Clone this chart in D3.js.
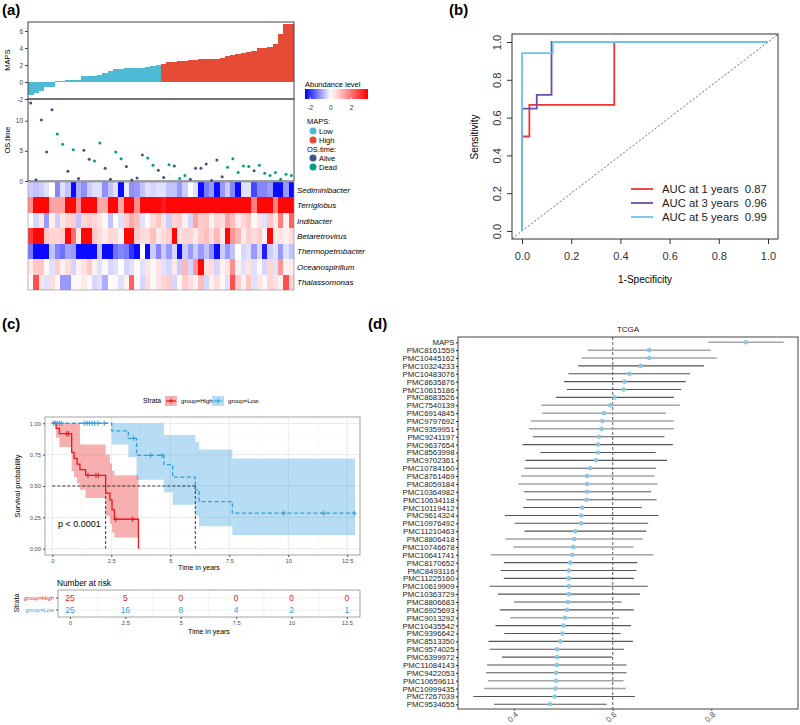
<!DOCTYPE html>
<html>
<head>
<meta charset="utf-8">
<script src="https://cdn.jsdelivr.net/npm/d3@7"></script>
<style>
  body { margin: 0; background: #fff; }
  svg { font-family: "Liberation Sans", Arial, Helvetica, sans-serif; }
</style>
</head>
<body>
<svg id="fig" width="800" height="725"></svg>
<script>
// ---------- DATA ----------
// (a) risk score per sample, sorted, low group then high group
const mapsLow = [-1.5,-1.3,-1.0,-0.6,-0.6,0.07,0.15,0.25,0.25,0.28,0.65,0.7,0.72,0.8,1.05,1.25,1.55,1.57,1.6,1.62,1.65,1.7,1.75,1.9,2.05];
const mapsHigh = [2.08,2.3,2.4,2.45,2.5,2.55,2.6,2.65,2.7,2.72,2.75,2.77,3.1,3.2,3.3,3.45,3.55,3.6,3.95,3.97,4.15,4.5,5.6,6.8,6.8];
const osTime = [12.95,0.2,10.1,4.8,11.8,7.8,6.1,1.6,5.2,0.4,5.1,3.6,3.3,6.3,2.1,0.3,4.8,3.7,2.4,0.15,0.5,4.3,3.8,2.6,1.8,0.6,2.7,2.5,0.4,0.9,0.3,2.1,2.1,2.8,0.1,3.5,0.7,2.3,3.7,1.4,2.5,2.4,1.7,2.6,1.3,0.9,1.4,0.3,1.1,0.9];
const osStatus = ['Alive','Alive','Alive','Alive','Alive','Dead','Dead','Alive','Dead','Alive','Alive','Alive','Dead','Dead','Alive','Alive','Dead','Dead','Alive','Alive','Alive','Alive','Dead','Dead','Alive','Alive','Dead','Alive','Dead','Dead','Alive','Alive','Alive','Alive','Alive','Alive','Alive','Dead','Dead','Dead','Dead','Dead','Alive','Dead','Dead','Dead','Dead','Dead','Dead','Dead'];
const genera = ['Sediminibacter','Terriglobus','Indibacter','Betaretrovirus','Thermopetrobacter','Oceanospirillum','Thalassomonas'];
const heatSedim = [-0.5,-0.6,-0.5,-0.3,0,-1.2,-0.3,-0.6,-2.4,-0.8,-1.1,-0.5,-0.3,-0.3,-1.1,-0.6,-0.3,-2.4,-0.2,-1.1,-1.0,-0.6,-0.3,-0.4,-0.3,-0.3,-0.6,-0.6,-1.0,-0.5,0,-0.3,-2.4,-1.3,-1.0,-2.4,-1.0,-0.5,-1.2,-2.4,-0.3,-0.3,-1.8,-1.2,-1.2,-1.0,-2.4,-2.4,-1.0,-2.4];
const heatTerri = [1.6,3.5,3.5,3.5,1.3,1.3,1.3,3.5,3.5,1.6,3.5,3.5,3.5,1.2,1.2,3.5,3.5,1.3,3.5,3.5,1.6,3.5,3.5,3.5,3.5,3.2,3.5,3.5,3.5,3.5,3.5,3.5,3.5,3.5,3.5,3.5,3.5,3.5,3.5,3.5,3.5,3.5,1.8,3.5,3.5,3.5,1.8,3.5,3.5,3.5];
const heatIndi = [0,-0.4,0.4,-1.0,0.2,-0.5,0.4,0.6,0.7,-0.6,0.6,0.7,0.6,0.4,0.1,-0.6,0,-0.3,0.7,1.2,0.9,-0.3,0.1,0.5,0.8,0.4,-0.5,0.6,0.7,0.2,-0.4,1.3,0.7,0.8,0.2,0.6,0.5,1.3,0.9,0.3,0.6,0.8,0.1,0.4,-0.3,0.8,0.3,1.8,0.2,2.2];
const heatBeta = [2.8,3.5,3.5,0.8,0.6,0.6,0.7,3.5,2.0,0.3,3.5,3.5,0.8,0.5,0.3,0.6,0.5,0.2,3.5,3.5,0.7,0.5,0.5,0.9,0.3,0.5,0.7,3.5,0.4,0.6,0.6,0.3,0.7,0.9,0.5,1.0,0.3,3.5,1.5,1.0,0.3,0.7,0.5,0.7,0.2,3.5,0.3,0.4,0.2,0.5];
const heatThermo = [-1.3,-2.4,-2.4,-2.4,-0.6,-1.2,-1.4,-0.9,-1.0,-2.4,-2.4,-2.4,-2.4,-0.6,-2.4,-2.4,-1.4,-1.2,-1.3,-2.0,-2.4,0,-2.4,-0.5,-1.2,-0.5,-1.0,-0.4,-2.4,-0.5,-1.0,-0.5,-1.0,-0.6,-1.1,-2.4,-0.5,-1.0,-0.6,0,-0.4,-0.3,-1.0,-0.4,-2.2,-0.5,-0.3,-1.0,-0.3,-0.6];
const heatOcean = [0.3,0.8,0.8,0.1,-0.3,0.7,0.2,0.5,-0.4,0.2,0.4,0.8,0.2,-0.3,0.1,-0.4,-0.3,0,-0.4,-0.3,0.1,-0.3,0.4,0.1,0.4,-0.3,-0.4,0.3,-0.5,1.0,-0.4,1.5,3.5,0.4,0.5,-0.4,0.2,0.4,1.6,0.2,-0.3,0.4,-0.3,0.1,-0.4,0.6,-0.3,1.5,0.2,0.3];
const heatThala = [0.1,2.5,0.4,-0.3,0.5,0.1,-1.0,-1.0,0.1,0.1,0.3,0.1,-0.4,-0.3,-0.8,0,0.1,-0.3,0.2,2.2,0.1,-0.4,0.5,0.1,0.4,0.6,0.7,-0.4,0.1,0.7,0.5,0.2,0.9,-0.4,0.2,0.5,0.1,-0.3,2.5,0.7,0.2,0.8,-0.3,0.4,0.1,0.6,0.4,0.2,2.5,0.6];

// (b) time-dependent ROC
const roc1Fpr = [0,0,0.03,0.03,0.375,0.375,1];
const roc1Tpr = [0,0.5,0.5,0.667,0.667,1,1];
const roc3Fpr = [0,0,0.06,0.06,0.12,0.12,1];
const roc3Tpr = [0,0.647,0.647,0.72,0.72,1,1];
const roc5Fpr = [0,0,0.125,0.125,1];
const roc5Tpr = [0,0.941,0.941,1,1];
const rocLabels = ['AUC at 1 years', 'AUC at 3 years', 'AUC at 5 years'];
const rocAuc = ['0.87', '0.96', '0.99'];

// (c) Kaplan-Meier
const highT = [0,0.16,0.3,0.82,0.92,1.05,1.17,1.41,2.26,2.44,2.53,2.63,3.65];
const highS = [1,0.96,0.917,0.768,0.72,0.675,0.63,0.584,0.443,0.39,0.31,0.235,0];
const highLo = [1,0.885,0.81,0.62,0.57,0.52,0.47,0.405,0.26,0.2,0.13,0.09,0.09];
const highUp = [1,1,1,1,1,1,0.83,0.83,0.75,0.68,0.62,0.585,0.585];
const highCens = [0.61,0.68,1.51,1.85,1.95,2.69,3.4];
const lowT = [0,2.52,3.22,3.57,4.73,5.1,6.06,6.22,7.63,12.83];
const lowS = [1,0.94,0.88,0.744,0.67,0.57,0.47,0.376,0.283,0.283];
const lowLo = [1,0.83,0.73,0.55,0.45,0.35,0.26,0.18,0.11,0.11];
const lowUp = [1,1,1,1,0.907,0.907,0.85,0.79,0.72,0.72];
const lowCens = [0.06,0.13,0.2,0.3,0.4,1.35,1.47,1.58,1.69,1.8,1.93,2.2,3.45,4.16,4.65,9.8,11.5,12.8];
const riskTimes = [0,2.5,5,7.5,10,12.5];
const riskHigh = [25,5,0,0,0,0];
const riskLow = [25,16,8,4,2,1];

// (d) C-index forest
const studies = ['MAPS','PMC8161559','PMC10445162','PMC10324233','PMC10483076','PMC8635876','PMC10615186','PMC8683526','PMC7540139','PMC6914845','PMC9797692','PMC9359951','PMC9241197','PMC9637654','PMC8563998','PMC9702361','PMC10784160','PMC8761469','PMC8059184','PMC10364982','PMC10634118','PMC10119412','PMC9614324','PMC10976492','PMC11210463','PMC8806418','PMC10746678','PMC10641741','PMC8170652','PMC8493116','PMC11225160','PMC10619909','PMC10363729','PMC8806683','PMC6925693','PMC9013292','PMC10435542','PMC9396642','PMC8513350','PMC9574025','PMC6399972','PMC11084143','PMC9422053','PMC10659611','PMC10999435','PMC7267039','PMC9534655'];
const cIndex = [0.870,0.674,0.674,0.657,0.634,0.624,0.622,0.604,0.595,0.582,0.579,0.577,0.572,0.570,0.570,0.566,0.554,0.548,0.548,0.548,0.547,0.538,0.536,0.536,0.524,0.522,0.520,0.518,0.514,0.511,0.511,0.511,0.511,0.509,0.507,0.503,0.500,0.498,0.494,0.487,0.487,0.487,0.485,0.485,0.484,0.482,0.473];
const ciLow = [0.794,0.549,0.537,0.530,0.510,0.501,0.507,0.485,0.455,0.457,0.434,0.430,0.438,0.417,0.453,0.423,0.421,0.414,0.408,0.420,0.425,0.418,0.381,0.401,0.421,0.382,0.398,0.353,0.379,0.373,0.379,0.350,0.367,0.400,0.371,0.392,0.362,0.380,0.348,0.351,0.375,0.345,0.343,0.347,0.339,0.317,0.359];
const ciHigh = [0.947,0.799,0.811,0.785,0.757,0.748,0.739,0.724,0.736,0.708,0.724,0.724,0.705,0.722,0.687,0.710,0.688,0.685,0.691,0.678,0.689,0.659,0.693,0.672,0.668,0.661,0.642,0.683,0.650,0.648,0.643,0.671,0.655,0.618,0.643,0.613,0.637,0.616,0.641,0.623,0.599,0.628,0.628,0.622,0.627,0.645,0.588];
const ciGroup = [1,1,1,0,0,0,0,0,1,1,1,1,0,0,0,0,0,1,1,0,0,0,0,0,0,1,1,1,0,0,0,0,0,0,0,1,0,0,0,0,0,0,0,1,1,0,0];

// ---------- SETUP ----------
const FONT = '"Liberation Sans", Arial, Helvetica, sans-serif';
const svg = d3.select('#fig');
svg.append('rect').attr('width', 800).attr('height', 725).attr('fill', '#fff');

function tag(x, y, t) {
  svg.append('text').attr('x', x).attr('y', y).attr('font-size', 15)
     .attr('font-weight', 'bold').attr('fill', '#000').text(t);
}
// strip d3's default axis styling
function dress(g, fs, col) {
  g.attr('font-family', FONT).attr('font-size', fs);
  g.selectAll('.tick text').attr('fill', col);
  g.selectAll('.tick line').attr('stroke', col);
  g.select('.domain').remove();
  return g;
}
function label(parent, x, y, t, fs, opts = {}) {
  const el = parent.append('text').attr('x', x).attr('y', y).attr('font-size', fs)
    .attr('fill', opts.fill || '#000').attr('text-anchor', opts.anchor || 'start').text(t);
  if (opts.rotate) el.attr('transform', `rotate(${opts.rotate},${x},${y})`);
  if (opts.italic) el.attr('font-style', 'italic');
  return el;
}

// ========== (a) ==========
tag(2, 15, '(a)');
const pa = svg.append('g');
const maps = mapsLow.concat(mapsHigh);
const idx = d3.range(maps.length);
const mapsGroup = idx.map(i => i < mapsLow.length ? 'Low' : 'High');
const xA = d3.scaleBand().domain(idx).range([28, 294]);
const grpCol = d3.scaleOrdinal().domain(['Low', 'High']).range(['#4DBBD5', '#E64B35']);
const statusCol = d3.scaleOrdinal().domain(['Alive', 'Dead']).range(['#3C5488', '#00A087']);

// bars
const yMaps = d3.scaleLinear().domain([-2, 7.06]).range([99, 22]);
pa.selectAll('rect.bar').data(idx).join('rect').attr('class', 'bar')
  .attr('x', i => xA(i)).attr('width', xA.bandwidth() + 0.4)
  .attr('y', i => Math.min(yMaps(maps[i]), yMaps(0)))
  .attr('height', i => Math.abs(yMaps(maps[i]) - yMaps(0)))
  .attr('fill', i => grpCol(mapsGroup[i]))
  .attr('shape-rendering', 'crispEdges');
pa.append('rect').attr('x', 28).attr('y', 22).attr('width', 266).attr('height', 77)
  .attr('fill', 'none').attr('stroke', '#444');
dress(pa.append('g').attr('transform', 'translate(28,0)')
  .call(d3.axisLeft(yMaps).tickValues([-2, 0, 2, 4, 6]).tickSize(3).tickPadding(2).tickFormat(d => String(d))), 6.5, '#444');
label(pa, 10, 60, 'MAPS', 7.5, { rotate: -90, anchor: 'middle' });

// survival time points
const yOs = d3.scaleLinear().domain([0, 13.6]).range([181, 99]);
pa.selectAll('circle.os').data(idx).join('circle').attr('class', 'os')
  .attr('cx', i => xA(i) + xA.bandwidth() / 2).attr('cy', i => yOs(osTime[i]))
  .attr('r', 1.5).attr('fill', i => statusCol(osStatus[i]));
pa.append('rect').attr('x', 28).attr('y', 99).attr('width', 266).attr('height', 82)
  .attr('fill', 'none').attr('stroke', '#444');
dress(pa.append('g').attr('transform', 'translate(28,0)')
  .call(d3.axisLeft(yOs).tickValues([0, 5, 10]).tickSize(3).tickPadding(2)), 6.5, '#444');
label(pa, 10, 140, 'OS.time', 7.5, { rotate: -90, anchor: 'middle' });

// heatmap
const heatRows = [heatSedim, heatTerri, heatIndi, heatBeta, heatThermo, heatOcean, heatThala];
const yHeat = d3.scaleBand().domain(genera).range([182, 290]);
const heatCol = d3.scaleLinear().domain([-2.5, 0, 3.6]).range(['#0000FF', '#FFFFFF', '#FF0000']).clamp(true);
const cells = [];
genera.forEach((g, r) => heatRows[r].forEach((v, c) => cells.push({ g, c, v })));
pa.selectAll('rect.cell').data(cells).join('rect').attr('class', 'cell')
  .attr('x', d => xA(d.c)).attr('width', xA.bandwidth() + 0.3)
  .attr('y', d => yHeat(d.g)).attr('height', yHeat.bandwidth() + 0.3)
  .attr('fill', d => heatCol(d.v)).attr('shape-rendering', 'crispEdges');
pa.append('rect').attr('x', 28).attr('y', 182).attr('width', 266).attr('height', 108)
  .attr('fill', 'none').attr('stroke', '#888').attr('stroke-width', 0.6);
genera.forEach(g => label(pa, 297, yHeat(g) + yHeat.bandwidth() / 2 + 3, g, 8, { italic: true }));

// legends
label(pa, 305, 87, 'Abundance level', 7.5);
const xLeg = d3.scaleLinear().domain([-2.5, 3.6]).range([305, 368]);
const grad = svg.append('defs').append('linearGradient').attr('id', 'abund');
d3.range(0, 1.0001, 0.1).forEach(t => {
  grad.append('stop').attr('offset', t).attr('stop-color', heatCol(xLeg.invert(305 + t * 63)));
});
pa.append('rect').attr('x', 305).attr('y', 89).attr('width', 63).attr('height', 10).attr('fill', 'url(#abund)');
[-2, 0, 2].forEach(v => {
  pa.append('line').attr('x1', xLeg(v)).attr('x2', xLeg(v)).attr('y1', 97).attr('y2', 99)
    .attr('stroke', '#fff').attr('stroke-width', 0.8);
  label(pa, xLeg(v), 110, String(v), 6.5, { anchor: 'middle', fill: '#333' });
});
label(pa, 307, 124, 'MAPS:', 7.5);
['Low', 'High'].forEach((g, i) => {
  pa.append('circle').attr('cx', 313).attr('cy', 131 + i * 9).attr('r', 3.5).attr('fill', grpCol(g));
  label(pa, 319, 134 + i * 9, g, 7.5);
});
label(pa, 307, 152, 'OS.time:', 7.5);
['Alive', 'Dead'].forEach((g, i) => {
  pa.append('circle').attr('cx', 313).attr('cy', 158 + i * 9).attr('r', 3.5).attr('fill', statusCol(g));
  label(pa, 319, 161 + i * 9, g, 7.5);
});

// ========== (b) ==========
tag(449, 15, '(b)');
const pb = svg.append('g');
const xB = d3.scaleLinear().domain([0, 1]).range([522, 768]);
const yB = d3.scaleLinear().domain([0, 1]).range([231, 42]);
pb.append('line').attr('x1', xB(-0.04)).attr('y1', yB(-0.04)).attr('x2', xB(1.04)).attr('y2', yB(1.04))
  .attr('stroke', '#444').attr('stroke-width', 0.8).attr('stroke-dasharray', '2,2');
const rocCol = ['#F03434', '#6A4DA6', '#6FC6EA'];
const rocSets = [[roc1Fpr, roc1Tpr], [roc3Fpr, roc3Tpr], [roc5Fpr, roc5Tpr]];
const rocLine = d3.line().x(d => xB(d[0])).y(d => yB(d[1]));
rocSets.forEach((s, k) => {
  pb.append('path').datum(s[0].map((f, i) => [f, s[1][i]])).attr('d', rocLine)
    .attr('fill', 'none').attr('stroke', rocCol[k]).attr('stroke-width', 1.8);
});
pb.append('rect').attr('x', 512).attr('y', 34).attr('width', 266).attr('height', 205)
  .attr('fill', 'none').attr('stroke', '#333');
dress(pb.append('g').attr('transform', 'translate(0,239)')
  .call(d3.axisBottom(xB).tickValues([0, 0.2, 0.4, 0.6, 0.8, 1]).tickFormat(d3.format('.1f')).tickSize(5).tickPadding(8)), 11, '#333');
const yAxB = dress(pb.append('g').attr('transform', 'translate(512,0)')
  .call(d3.axisLeft(yB).tickValues([0, 0.2, 0.4, 0.6, 0.8, 1]).tickFormat(d3.format('.1f')).tickSize(5)), 11, '#333');
yAxB.selectAll('.tick text').attr('x', 0).attr('y', -11).attr('dy', 0)
  .attr('text-anchor', 'middle').attr('transform', 'rotate(-90)');
label(pb, 645, 283, '1-Specificity', 10, { anchor: 'middle' });
label(pb, 478, 137, 'Sensitivity', 10, { anchor: 'middle', rotate: -90 });
rocLabels.forEach((t, k) => {
  const y = 189 + k * 14;
  pb.append('line').attr('x1', 631).attr('x2', 653).attr('y1', y).attr('y2', y)
    .attr('stroke', rocCol[k]).attr('stroke-width', 1.8);
  label(pb, 662, y + 4, t + '  ' + rocAuc[k], 11.3, { fill: '#222' }).attr('xml:space', 'preserve');
});

// ========== (c) ==========
tag(2, 329, '(c)');
const pc = svg.append('g');
const xK = d3.scaleLinear().domain([-0.31, 13.04]).range([45, 360]);
const yK = d3.scaleLinear().domain([-0.05, 1.05]).range([555, 417]);
const kmRed = '#E8191C', kmBlue = '#2E9FDF';

// grid (minor then major)
[1.25, 3.75, 6.25, 8.75, 11.25].forEach(t => pc.append('line').attr('x1', xK(t)).attr('x2', xK(t)).attr('y1', 417).attr('y2', 555).attr('stroke', '#F2F2F2').attr('stroke-width', 0.5));
[0.125, 0.375, 0.625, 0.875].forEach(s => pc.append('line').attr('x1', 45).attr('x2', 360).attr('y1', yK(s)).attr('y2', yK(s)).attr('stroke', '#F2F2F2').attr('stroke-width', 0.5));
riskTimes.forEach(t => pc.append('line').attr('x1', xK(t)).attr('x2', xK(t)).attr('y1', 417).attr('y2', 555).attr('stroke', '#E6E6E6').attr('stroke-width', 0.8));
[0, 0.25, 0.5, 0.75, 1].forEach(s => pc.append('line').attr('x1', 45).attr('x2', 360).attr('y1', yK(s)).attr('y2', yK(s)).attr('stroke', '#E6E6E6').attr('stroke-width', 0.8));

const band = d3.area().curve(d3.curveStepAfter).x(d => xK(d.t)).y0(d => yK(d.lo)).y1(d => yK(d.up));
const step = d3.line().curve(d3.curveStepAfter).x(d => xK(d.t)).y(d => yK(d.s));
const kmHigh = highT.map((t, i) => ({ t, s: highS[i], lo: highLo[i], up: highUp[i] }));
const kmLow = lowT.map((t, i) => ({ t, s: lowS[i], lo: lowLo[i], up: lowUp[i] }));
pc.append('path').datum(kmLow).attr('d', band).attr('fill', kmBlue).attr('opacity', 0.35);
pc.append('path').datum(kmHigh).attr('d', band).attr('fill', kmRed).attr('opacity', 0.35);

// median survival guides
function survAt(T, S, t) { return S[Math.max(0, d3.bisectRight(T, t) - 1)]; }
const medHigh = highT[highS.findIndex(s => s <= 0.5)];
const medLow = lowT[lowS.findIndex(s => s <= 0.5)];
pc.append('line').attr('x1', xK(0)).attr('x2', xK(medLow)).attr('y1', yK(0.5)).attr('y2', yK(0.5))
  .attr('stroke', '#222').attr('stroke-width', 0.9).attr('stroke-dasharray', '3,2');
[medHigh, medLow].forEach(m => pc.append('line').attr('x1', xK(m)).attr('x2', xK(m)).attr('y1', yK(0.5)).attr('y2', yK(0))
  .attr('stroke', '#222').attr('stroke-width', 0.9).attr('stroke-dasharray', '3,2'));

pc.append('path').datum(kmLow).attr('d', step).attr('fill', 'none').attr('stroke', kmBlue)
  .attr('stroke-width', 1.3).attr('stroke-dasharray', '4,2.5');
pc.append('path').datum(kmHigh).attr('d', step).attr('fill', 'none').attr('stroke', kmRed).attr('stroke-width', 1.3);
const plus = 'M-2.6,0H2.6M0,-2.6V2.6';
highCens.forEach(t => pc.append('path').attr('d', plus).attr('transform', `translate(${xK(t)},${yK(survAt(highT, highS, t))})`)
  .attr('stroke', kmRed).attr('stroke-width', 1));
lowCens.forEach(t => pc.append('path').attr('d', plus).attr('transform', `translate(${xK(t)},${yK(survAt(lowT, lowS, t))})`)
  .attr('stroke', kmBlue).attr('stroke-width', 1));

pc.append('rect').attr('x', 45).attr('y', 417).attr('width', 315).attr('height', 138)
  .attr('fill', 'none').attr('stroke', '#8C8C8C').attr('stroke-width', 0.8);
dress(pc.append('g').attr('transform', 'translate(0,555)')
  .call(d3.axisBottom(xK).tickValues(riskTimes).tickFormat(d => String(d)).tickSize(2).tickPadding(2)), 5.8, '#4D4D4D');
dress(pc.append('g').attr('transform', 'translate(45,0)')
  .call(d3.axisLeft(yK).tickValues([0, 0.25, 0.5, 0.75, 1]).tickFormat(d3.format('.2f')).tickSize(2).tickPadding(2)), 5.8, '#4D4D4D');
label(pc, 20, 486, 'Survival probability', 7.5, { anchor: 'middle', rotate: -90 });
label(pc, 199, 570, 'Time in years', 7, { anchor: 'middle' });
label(pc, 58, 527, 'p < 0.0001', 9);

// strata legend
label(pc, 143, 403, 'Strata', 6.8);
[['group=High', kmRed, 165, null], ['group=Low', kmBlue, 212, '3,1.5']].forEach(([name, col, x0, dash]) => {
  pc.append('rect').attr('x', x0).attr('y', 396).attr('width', 12).attr('height', 10).attr('fill', col).attr('opacity', 0.35);
  const ln = pc.append('line').attr('x1', x0 + 1).attr('x2', x0 + 11).attr('y1', 401).attr('y2', 401).attr('stroke', col).attr('stroke-width', 1.2);
  if (dash) ln.attr('stroke-dasharray', dash);
  pc.append('path').attr('d', plus).attr('transform', `translate(${x0 + 6},401)`).attr('stroke', col).attr('stroke-width', 0.9);
  label(pc, x0 + 16, 403, name, 6.1);
});

// number at risk table
label(pc, 57, 586, 'Number at risk', 8.3);
const xR = d3.scaleLinear().domain([-0.54, 13.09]).range([58, 360]);
const strata = ['group=High', 'group=Low'];
const yR = d3.scaleBand().domain(strata).range([592, 616]);
[1.25, 3.75, 6.25, 8.75, 11.25].forEach(t => pc.append('line').attr('x1', xR(t)).attr('x2', xR(t)).attr('y1', 590).attr('y2', 617).attr('stroke', '#EDEDED').attr('stroke-width', 0.6));
strata.forEach(s => pc.append('line').attr('x1', 58).attr('x2', 360).attr('y1', yR(s) + yR.bandwidth() / 2).attr('y2', yR(s) + yR.bandwidth() / 2).attr('stroke', '#EDEDED').attr('stroke-width', 0.8));
const riskRows = [riskHigh, riskLow];
const stCol = d3.scaleOrdinal().domain(strata).range([kmRed, kmBlue]);
strata.forEach((s, r) => riskTimes.forEach((t, i) => {
  label(pc, xR(t), yR(s) + yR.bandwidth() / 2 + 3.2, String(riskRows[r][i]), 8.4, { anchor: 'middle', fill: stCol(s) });
}));
pc.append('rect').attr('x', 58).attr('y', 590).attr('width', 302).attr('height', 27)
  .attr('fill', 'none').attr('stroke', '#8C8C8C').attr('stroke-width', 0.8);
const yAxR = dress(pc.append('g').attr('transform', 'translate(58,0)')
  .call(d3.axisLeft(yR).tickSize(2).tickPadding(2)), 5.8, '#4D4D4D');
yAxR.selectAll('.tick text').attr('fill', d => stCol(d));
dress(pc.append('g').attr('transform', 'translate(0,617)')
  .call(d3.axisBottom(xR).tickValues(riskTimes).tickFormat(d => String(d)).tickSize(2).tickPadding(2)), 5.8, '#4D4D4D');
label(pc, 209, 634, 'Time in years', 7, { anchor: 'middle' });
label(pc, 19, 603, 'Strata', 7, { anchor: 'middle', rotate: -90 });

// ========== (d) ==========
tag(368, 329, '(d)');
const pd = svg.append('g');
const xF = d3.scaleLinear().domain([0.286, 0.976]).range([458, 798]);
const yF = d3.scalePoint().domain(studies).range([342.3, 704.3]);
const tone = d3.scaleOrdinal().domain([0, 1]).range(['#555555', '#A5A5A5']);
label(pd, 628, 332, 'TCGA', 8, { anchor: 'middle', fill: '#222' });
pd.append('line').attr('x1', xF(0.6)).attr('x2', xF(0.6)).attr('y1', 337).attr('y2', 709)
  .attr('stroke', '#333').attr('stroke-width', 0.8).attr('stroke-dasharray', '3,2');
pd.selectAll('line.ci').data(studies).join('line').attr('class', 'ci')
  .attr('x1', (s, i) => xF(ciLow[i])).attr('x2', (s, i) => xF(ciHigh[i]))
  .attr('y1', s => yF(s)).attr('y2', s => yF(s))
  .attr('stroke', (s, i) => tone(ciGroup[i])).attr('stroke-width', (s, i) => ciGroup[i] ? 1.5 : 1.1);
pd.selectAll('circle.ci').data(studies).join('circle').attr('class', 'ci')
  .attr('cx', (s, i) => xF(cIndex[i])).attr('cy', s => yF(s)).attr('r', 2.3).attr('fill', '#8CC6E2');
pd.append('rect').attr('x', 458).attr('y', 337).attr('width', 340).attr('height', 372)
  .attr('fill', 'none').attr('stroke', '#444');
dress(pd.append('g').attr('transform', 'translate(458,0)')
  .call(d3.axisLeft(yF).tickSize(2).tickPadding(1.5)), 7.8, '#222');
const xAxF = dress(pd.append('g').attr('transform', 'translate(0,709)')
  .call(d3.axisBottom(xF).tickValues([0.4, 0.6, 0.8]).tickFormat(d3.format('.1f')).tickSize(2)), 8, '#555');
xAxF.selectAll('.tick text').attr('x', 0).attr('y', 0).attr('dy', 0)
  .attr('text-anchor', 'end').attr('transform', 'translate(4,6) rotate(-45)');
</script>
</body>
</html>
